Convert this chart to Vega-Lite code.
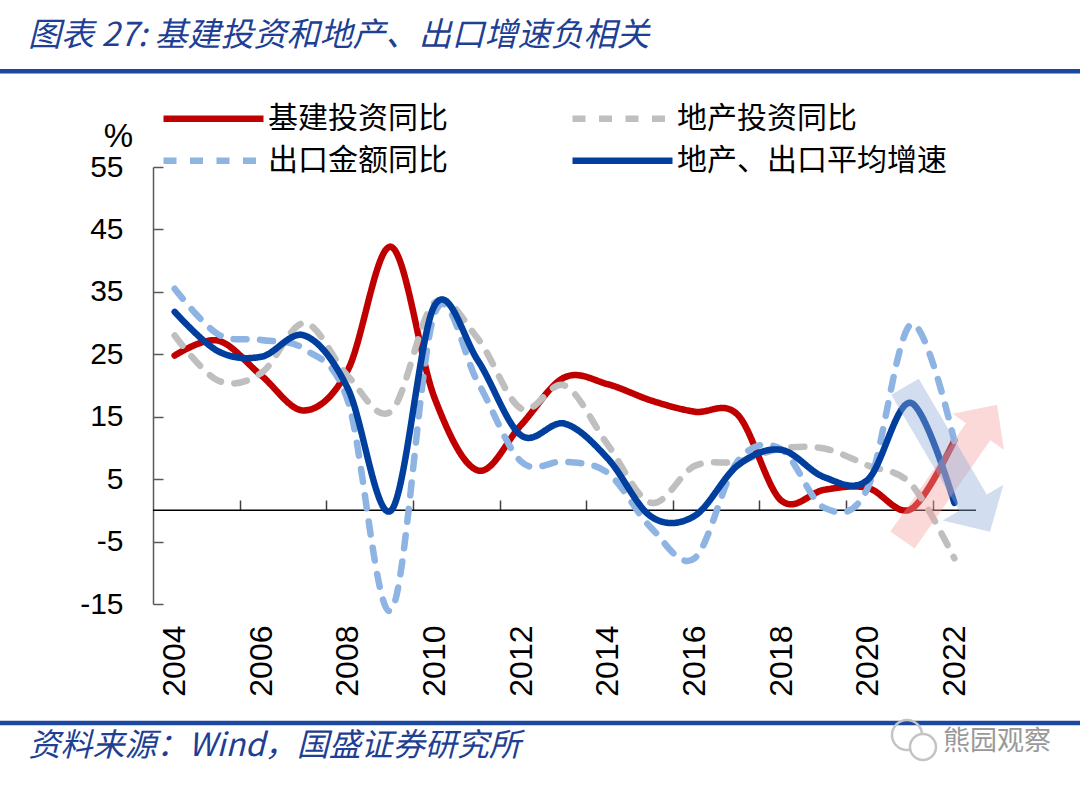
{
  "$schema": "https://vega.github.io/schema/vega-lite/v6.json",
  "width": 823,
  "height": 437,
  "autosize": {"type": "none"},
  "padding": {"left": 153, "top": 167, "right": 104, "bottom": 183},
  "background": "white",
  "config": {
    "view": {"stroke": null},
    "font": "Liberation Sans",
    "axis": {"labelFont": "Liberation Sans", "titleFont": "Liberation Sans", "grid": false},
    "legend": {
      "orient": "none",
      "direction": "horizontal",
      "title": null,
      "padding": 0,
      "symbolType": "stroke",
      "symbolSize": 10000,
      "symbolStrokeWidth": 6.5,
      "labelFont": "Noto Sans CJK SC",
      "labelFontSize": 30,
      "labelColor": "#000000",
      "labelOffset": 1,
      "labelLimit": 400,
      "columnPadding": 111
    }
  },
  "title": {
    "text": "图表 27: 基建投资和地产、出口增速负相关",
    "anchor": "start",
    "frame": "group",
    "font": "Noto Sans CJK SC",
    "fontSize": 33,
    "fontStyle": "italic",
    "fontWeight": "normal",
    "color": "#1e3f94",
    "offset": 0,
    "dx": -125,
    "dy": -12
  },
  "datasets": {
    "growth": [
      {"year": 2004, "series": "基建投资同比", "value": 24.8},
      {"year": 2005, "series": "基建投资同比", "value": 27.2},
      {"year": 2006, "series": "基建投资同比", "value": 21.6},
      {"year": 2007, "series": "基建投资同比", "value": 16.0},
      {"year": 2008, "series": "基建投资同比", "value": 22.5},
      {"year": 2009, "series": "基建投资同比", "value": 42.2},
      {"year": 2010, "series": "基建投资同比", "value": 18.0},
      {"year": 2011, "series": "基建投资同比", "value": 6.4},
      {"year": 2012, "series": "基建投资同比", "value": 13.7},
      {"year": 2013, "series": "基建投资同比", "value": 21.3},
      {"year": 2014, "series": "基建投资同比", "value": 20.2},
      {"year": 2015, "series": "基建投资同比", "value": 17.6},
      {"year": 2016, "series": "基建投资同比", "value": 15.8},
      {"year": 2017, "series": "基建投资同比", "value": 15.3},
      {"year": 2018, "series": "基建投资同比", "value": 1.6},
      {"year": 2019, "series": "基建投资同比", "value": 3.3},
      {"year": 2020, "series": "基建投资同比", "value": 3.6},
      {"year": 2021, "series": "基建投资同比", "value": 0.2},
      {"year": 2022, "series": "基建投资同比", "value": 11.2},
      {"year": 2004, "series": "地产投资同比", "value": 28.0},
      {"year": 2005, "series": "地产投资同比", "value": 20.8},
      {"year": 2006, "series": "地产投资同比", "value": 22.0},
      {"year": 2007, "series": "地产投资同比", "value": 30.0},
      {"year": 2008, "series": "地产投资同比", "value": 21.5},
      {"year": 2009, "series": "地产投资同比", "value": 15.9},
      {"year": 2010, "series": "地产投资同比", "value": 33.3},
      {"year": 2011, "series": "地产投资同比", "value": 27.5},
      {"year": 2012, "series": "地产投资同比", "value": 16.3},
      {"year": 2013, "series": "地产投资同比", "value": 20.0},
      {"year": 2014, "series": "地产投资同比", "value": 10.5},
      {"year": 2015, "series": "地产投资同比", "value": 1.2},
      {"year": 2016, "series": "地产投资同比", "value": 7.1},
      {"year": 2017, "series": "地产投资同比", "value": 7.8},
      {"year": 2018, "series": "地产投资同比", "value": 9.9},
      {"year": 2019, "series": "地产投资同比", "value": 9.9},
      {"year": 2020, "series": "地产投资同比", "value": 7.2},
      {"year": 2021, "series": "地产投资同比", "value": 4.2},
      {"year": 2022, "series": "地产投资同比", "value": -7.7},
      {"year": 2004, "series": "出口金额同比", "value": 35.5},
      {"year": 2005, "series": "出口金额同比", "value": 28.2},
      {"year": 2006, "series": "出口金额同比", "value": 27.3},
      {"year": 2007, "series": "出口金额同比", "value": 25.8},
      {"year": 2008, "series": "出口金额同比", "value": 17.5},
      {"year": 2009, "series": "出口金额同比", "value": -16.0},
      {"year": 2010, "series": "出口金额同比", "value": 31.5},
      {"year": 2011, "series": "出口金额同比", "value": 20.5},
      {"year": 2012, "series": "出口金额同比", "value": 7.8},
      {"year": 2013, "series": "出口金额同比", "value": 7.8},
      {"year": 2014, "series": "出口金额同比", "value": 6.0},
      {"year": 2015, "series": "出口金额同比", "value": -2.8},
      {"year": 2016, "series": "出口金额同比", "value": -7.7},
      {"year": 2017, "series": "出口金额同比", "value": 7.9},
      {"year": 2018, "series": "出口金额同比", "value": 9.8},
      {"year": 2019, "series": "出口金额同比", "value": 0.4},
      {"year": 2020, "series": "出口金额同比", "value": 3.6},
      {"year": 2021, "series": "出口金额同比", "value": 29.8},
      {"year": 2022, "series": "出口金额同比", "value": 11.1},
      {"year": 2004, "series": "地产、出口平均增速", "value": 31.8},
      {"year": 2005, "series": "地产、出口平均增速", "value": 25.5},
      {"year": 2006, "series": "地产、出口平均增速", "value": 24.6},
      {"year": 2007, "series": "地产、出口平均增速", "value": 28.0},
      {"year": 2008, "series": "地产、出口平均增速", "value": 19.5},
      {"year": 2009, "series": "地产、出口平均增速", "value": 0.0},
      {"year": 2010, "series": "地产、出口平均增速", "value": 32.8},
      {"year": 2011, "series": "地产、出口平均增速", "value": 24.0},
      {"year": 2012, "series": "地产、出口平均增速", "value": 12.0},
      {"year": 2013, "series": "地产、出口平均增速", "value": 13.9},
      {"year": 2014, "series": "地产、出口平均增速", "value": 8.3},
      {"year": 2015, "series": "地产、出口平均增速", "value": -1.0},
      {"year": 2016, "series": "地产、出口平均增速", "value": -0.9},
      {"year": 2017, "series": "地产、出口平均增速", "value": 7.2},
      {"year": 2018, "series": "地产、出口平均增速", "value": 9.7},
      {"year": 2019, "series": "地产、出口平均增速", "value": 5.3},
      {"year": 2020, "series": "地产、出口平均增速", "value": 4.9},
      {"year": 2021, "series": "地产、出口平均增速", "value": 17.2},
      {"year": 2022, "series": "地产、出口平均增速", "value": 1.2}
    ]
  },
  "layer": [
    {
      "data": {"values": [{}]},
      "mark": {"type": "rule", "color": "#1c48a0", "strokeWidth": 4.3},
      "encoding": {
        "x": {"datum": 1999.9, "type": "quantitative", "scale": {"domain": [2003.5, 2022.5], "nice": false, "zero": false}, "axis": null},
        "x2": {"datum": 2025.1},
        "y": {"datum": 70.34, "type": "quantitative", "scale": {"domain": [-15, 55], "nice": false, "zero": false}, "axis": null}
      }
    },
    {
      "data": {"values": [{}]},
      "mark": {"type": "rule", "color": "#1c48a0", "strokeWidth": 4.3},
      "encoding": {
        "x": {"datum": 1999.9, "type": "quantitative", "scale": {"domain": [2003.5, 2022.5], "nice": false, "zero": false}, "axis": null},
        "x2": {"datum": 2025.1},
        "y": {"datum": -34.06, "type": "quantitative", "scale": {"domain": [-15, 55], "nice": false, "zero": false}, "axis": null}
      }
    },
    {
      "data": {"values": [{}]},
      "mark": {"type": "rule", "color": "#000000", "strokeWidth": 1.5},
      "encoding": {
        "x": {
          "datum": 2003.5,
          "type": "quantitative",
          "scale": {"domain": [2003.5, 2022.5], "nice": false, "zero": false},
          "axis": {"orient": "top", "offset": -343, "values": [2005.5, 2007.5, 2009.5, 2011.5, 2013.5, 2015.5, 2017.5, 2019.5, 2021.5], "labels": false, "domain": false, "ticks": true, "tickSize": 10, "tickWidth": 1.5, "tickColor": "#404040", "title": null}
        },
        "x2": {"datum": 2022.5},
        "y": {
          "datum": 0,
          "type": "quantitative",
          "scale": {"domain": [-15, 55], "nice": false, "zero": false},
          "axis": {"orient": "right", "offset": -823, "values": [-15, -5, 5, 15, 25, 35, 45, 55], "labels": false, "domain": false, "ticks": true, "tickSize": 10, "tickWidth": 1.5, "tickColor": "#595959", "title": null}
        }
      }
    },
    {
      "data": {"name": "growth"},
      "transform": [{"filter": "datum.series === '基建投资同比' || datum.series === '地产投资同比'"}],
      "mark": {"type": "line", "interpolate": "cardinal", "strokeWidth": 6.5, "strokeCap": "round", "strokeJoin": "round"},
      "encoding": {
        "x": {
          "field": "year",
          "type": "quantitative",
          "scale": {"domain": [2003.5, 2022.5], "nice": false, "zero": false},
          "axis": {
            "values": [2004, 2006, 2008, 2010, 2012, 2014, 2016, 2018, 2020, 2022],
            "format": "d",
            "labelAngle": 270,
            "labelFontSize": 32,
            "labelColor": "#000000",
            "labelPadding": 21,
            "ticks": false,
            "tickSize": 0,
            "domain": false,
            "title": "资料来源：Wind，国盛证券研究所",
            "titleX": -125,
            "titleY": 141,
            "titleAlign": "left",
            "titleAnchor": "start",
            "titleBaseline": "middle",
            "titleAngle": 0,
            "titleFont": "Noto Sans CJK SC",
            "titleFontSize": 32,
            "titleFontStyle": "italic",
            "titleFontWeight": "normal",
            "titleColor": "#1e3f94"
          }
        },
        "y": {
          "field": "value",
          "type": "quantitative",
          "scale": {"domain": [-15, 55], "nice": false, "zero": false},
          "axis": {
            "values": [-15, -5, 5, 15, 25, 35, 45, 55],
            "labelExpr": "toString(datum.value)",
            "labelFontSize": 30,
            "labelColor": "#000000",
            "labelPadding": 30,
            "ticks": false,
            "tickSize": 0,
            "domain": true,
            "domainColor": "#595959",
            "domainWidth": 1.5,
            "title": "%",
            "titleAngle": 0,
            "titleX": -35,
            "titleY": -21,
            "titleAlign": "center",
            "titleBaseline": "alphabetic",
            "titleFontSize": 33,
            "titleFontWeight": "normal",
            "titleColor": "#000000"
          }
        },
        "color": {
          "field": "series",
          "type": "nominal",
          "sort": ["基建投资同比", "地产投资同比"],
          "scale": {"domain": ["基建投资同比", "地产投资同比"], "range": ["#c00000", "#bfbfbf"]},
          "legend": {"legendX": 7, "legendY": -102}
        },
        "strokeDash": {
          "field": "series",
          "type": "nominal",
          "sort": ["基建投资同比", "地产投资同比"],
          "scale": {"domain": ["基建投资同比", "地产投资同比"], "range": [[1, 0], [13, 13.5]]},
          "legend": {"legendX": 7, "legendY": -102}
        }
      }
    },
    {
      "data": {"name": "growth"},
      "transform": [{"filter": "datum.series === '出口金额同比' || datum.series === '地产、出口平均增速'"}],
      "mark": {"type": "line", "interpolate": "cardinal", "strokeWidth": 6.5, "strokeCap": "round", "strokeJoin": "round"},
      "encoding": {
        "x": {"field": "year", "type": "quantitative", "scale": {"domain": [2003.5, 2022.5], "nice": false, "zero": false}, "axis": null},
        "y": {"field": "value", "type": "quantitative", "scale": {"domain": [-15, 55], "nice": false, "zero": false}, "axis": null},
        "color": {
          "field": "series",
          "type": "nominal",
          "sort": ["出口金额同比", "地产、出口平均增速"],
          "scale": {"domain": ["出口金额同比", "地产、出口平均增速"], "range": ["#8db4e2", "#003f9e"]},
          "legend": {"legendX": 7, "legendY": -60}
        },
        "strokeDash": {
          "field": "series",
          "type": "nominal",
          "sort": ["出口金额同比", "地产、出口平均增速"],
          "scale": {"domain": ["出口金额同比", "地产、出口平均增速"], "range": [[13, 13.5], [1, 0]]},
          "legend": {"legendX": 7, "legendY": -60}
        }
      }
    },
    {
      "data": {"values": [{}]},
      "mark": {"type": "point", "shape": "M 0 -1 L 0.38 -0.6 L 0.18 -0.6 L 0.18 1 L -0.18 1 L -0.18 -0.6 L -0.38 -0.6 Z", "filled": true, "color": "#f4a0a0", "opacity": 0.4, "strokeWidth": 0, "size": 27225, "angle": 35},
      "encoding": {
        "x": {"datum": 2021.895, "type": "quantitative", "scale": {"domain": [2003.5, 2022.5], "nice": false, "zero": false}, "axis": null},
        "y": {"datum": 6.08, "type": "quantitative", "scale": {"domain": [-15, 55], "nice": false, "zero": false}, "axis": null}
      }
    },
    {
      "data": {"values": [{}]},
      "mark": {"type": "point", "shape": "M 0 -1 L 0.42 -0.6 L 0.19 -0.6 L 0.19 1 L -0.19 1 L -0.19 -0.6 L -0.42 -0.6 Z", "filled": true, "color": "#8fa9d6", "opacity": 0.4, "strokeWidth": 0, "size": 28224, "angle": 149.6},
      "encoding": {
        "x": {"datum": 2021.842, "type": "quantitative", "scale": {"domain": [2003.5, 2022.5], "nice": false, "zero": false}, "axis": null},
        "y": {"datum": 8.19, "type": "quantitative", "scale": {"domain": [-15, 55], "nice": false, "zero": false}, "axis": null}
      }
    },
    {
      "data": {"values": [{}]},
      "mark": {"type": "point", "shape": "circle", "filled": false, "stroke": "#c4c4c4", "strokeWidth": 2.5, "opacity": 1, "size": 900},
      "encoding": {
        "x": {"datum": 2020.907, "type": "quantitative", "scale": {"domain": [2003.5, 2022.5], "nice": false, "zero": false}, "axis": null},
        "y": {"datum": -35.98, "type": "quantitative", "scale": {"domain": [-15, 55], "nice": false, "zero": false}, "axis": null}
      }
    },
    {
      "data": {"values": [{}]},
      "mark": {"type": "point", "shape": "circle", "filled": true, "fill": "#ffffff", "stroke": "#c4c4c4", "strokeWidth": 2.5, "opacity": 1, "size": 676},
      "encoding": {
        "x": {"datum": 2021.276, "type": "quantitative", "scale": {"domain": [2003.5, 2022.5], "nice": false, "zero": false}, "axis": null},
        "y": {"datum": -37.9, "type": "quantitative", "scale": {"domain": [-15, 55], "nice": false, "zero": false}, "axis": null}
      }
    },
    {
      "data": {"values": [{}]},
      "mark": {"type": "text", "text": "熊园观察", "font": "Noto Sans CJK SC", "fontSize": 27, "color": "#999999", "align": "left", "baseline": "middle"},
      "encoding": {
        "x": {"datum": 2021.74, "type": "quantitative", "scale": {"domain": [2003.5, 2022.5], "nice": false, "zero": false}, "axis": null},
        "y": {"datum": -37.1, "type": "quantitative", "scale": {"domain": [-15, 55], "nice": false, "zero": false}, "axis": null}
      }
    }
  ],
  "resolve": {
    "scale": {"x": "shared", "y": "shared", "color": "independent", "strokeDash": "independent"},
    "axis": {"x": "independent", "y": "independent"},
    "legend": {"color": "independent", "strokeDash": "independent"}
  }
}
